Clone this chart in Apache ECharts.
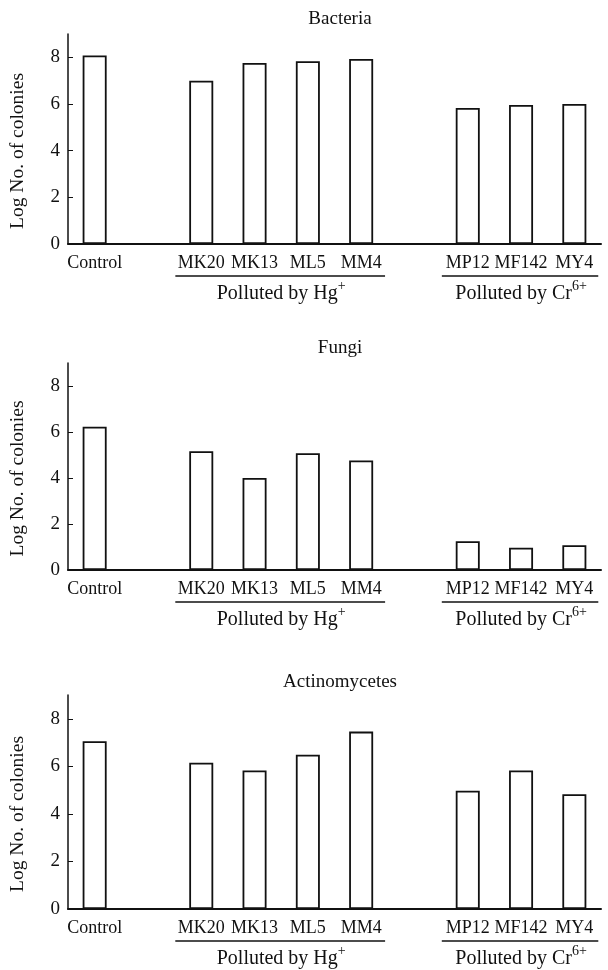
<!DOCTYPE html>
<html>
<head>
<meta charset="utf-8" />
<title>Log No. of colonies</title>
<style>
	html, body {
		margin: 0;
		padding: 0;
		background: #fff;
	}
	#main {
		width: 608px;
		height: 970px;
	}
</style>
</head>
<body>
<div id="main"></div>
<script src="https://cdn.jsdelivr.net/npm/echarts@6/dist/echarts.min.js"></script>
<script>
	// categories on the x axis, blanks are the gaps between the groups
	var categories = ['Control', '', 'MK20', 'MK13', 'ML5', 'MM4', ' ', 'MP12', 'MF142', 'MY4'];
	var bacteria = [8.08, null, 7.0, 7.76, 7.83, 7.93, null, 5.83, 5.96, 6.0];
	var fungi = [6.23, null, 5.16, 4.0, 5.08, 4.76, null, 1.25, 0.97, 1.08];
	var actinomycetes = [7.06, null, 6.15, 5.83, 6.49, 7.46, null, 4.97, 5.83, 4.83];
	var yTicks = [0, 2, 4, 6, 8];
	var panelTitles = ['Bacteria', 'Fungi', 'Actinomycetes'];
	var groups = [
		{ from: 'MK20', to: 'MM4', text: 'Polluted by Hg{sup|+}' },
		{ from: 'MP12', to: 'MY4', text: 'Polluted by Cr{sup|6+}' }
	];

	var values = [bacteria, fungi, actinomycetes];
	var font = '"Liberation Serif", "Times New Roman", serif';
	var ink = '#111';
	var grids = [
		{ left: 63, top: 34, width: 538, height: 210 },
		{ left: 62, top: 363, width: 539, height: 207 },
		{ left: 62, top: 695, width: 539, height: 214 }
	];
	var titleY = [19, 348, 682];

	var xAxes = [], yAxes = [], series = [];
	for (var i = 0; i < 3; i++) {
		xAxes.push({
			type: 'category',
			gridIndex: i,
			data: categories,
			axisLine: { lineStyle: { color: ink, width: 2 } },
			axisTick: { inside: true, length: 4, lineStyle: { color: ink, width: 1 } },
			axisLabel: { interval: 0, margin: 10, color: ink, fontSize: 18, fontFamily: font }
		});
		yAxes.push({
			type: 'value',
			gridIndex: i,
			min: 0,
			max: 9,
			name: 'Log No. of colonies',
			nameLocation: 'middle',
			nameGap: 40,
			nameTextStyle: { color: ink, fontSize: 19.5, fontFamily: font, padding: [0, 24, 0, 0] },
			axisLine: { show: true, lineStyle: { color: ink, width: 1.5 } },
			axisTick: { show: true, inside: true, length: 5, customValues: yTicks, lineStyle: { color: ink } },
			axisLabel: { color: ink, fontSize: 19, fontFamily: font, margin: 8, customValues: yTicks },
			splitLine: { show: false }
		});
		series.push({
			type: 'bar',
			xAxisIndex: i,
			yAxisIndex: i,
			data: values[i],
			barWidth: 24,
			itemStyle: { color: '#fff', borderColor: ink, borderWidth: 1.8 }
		});
	}

	var chart = echarts.init(document.getElementById('main'), null, { renderer: 'canvas' });
	chart.setOption({
		animation: false,
		backgroundColor: '#fff',
		grid: grids,
		xAxis: xAxes,
		yAxis: yAxes,
		series: series
	});

	// titles, group underlines and group captions
	var graphic = [];
	for (var i = 0; i < 3; i++) {
		var g = grids[i];
		var base = g.top + g.height;
		var bw = g.width / categories.length;
		graphic.push({
			type: 'text',
			x: 340,
			y: titleY[i],
			style: { text: panelTitles[i], fill: ink, font: '19px ' + font, align: 'center', verticalAlign: 'middle' }
		});
		groups.forEach(function (grp) {
			var x1 = chart.convertToPixel({ xAxisIndex: i }, grp.from);
			var x2 = chart.convertToPixel({ xAxisIndex: i }, grp.to);
			graphic.push({
				type: 'line',
				shape: { x1: x1 - bw / 2 + 1, y1: base + 32, x2: x2 + bw / 2 - 3, y2: base + 32 },
				style: { stroke: ink, lineWidth: 1.3 }
			});
			graphic.push({
				type: 'text',
				x: (x1 + x2) / 2,
				y: base + 50,
				style: {
					text: grp.text,
					fill: ink,
					fontSize: 20,
					fontFamily: font,
					lineHeight: 30,
					align: 'center',
					verticalAlign: 'middle',
					rich: {
						sup: { fontSize: 14, lineHeight: 14, verticalAlign: 'top', fontFamily: font, fill: ink }
					}
				}
			});
		});
	}
	chart.setOption({ graphic: graphic });
</script>
</body>
</html>
